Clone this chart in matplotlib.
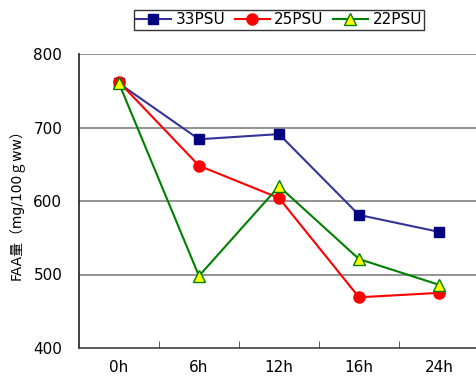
import matplotlib
matplotlib.use("Agg")
import matplotlib.pyplot as plt
import numpy as np

plt.rcParams['font.family'] = ['DejaVu Sans', 'Noto Sans CJK JP']

categories = ["0h", "6h", "12h", "16h", "24h"]
psu33 = [760, 684, 691, 581, 558]
psu25 = [762, 648, 604, 469, 475]
psu22 = [760, 498, 620, 521, 486]

fig = plt.figure(figsize=(4.77, 3.83), dpi=100)
ax = fig.add_axes([79/477, 35/383, 400/477, 294/383])
x = np.arange(len(categories))

ax.plot(x, psu33, color='#333399', marker='s', markersize=7, markerfacecolor='#000080',
        markeredgecolor='#000080', lw=1.5, label='33PSU', zorder=3)
ax.plot(x, psu25, color='#FF0000', marker='o', markersize=8, markerfacecolor='#FF0000',
        markeredgecolor='#FF0000', lw=1.5, label='25PSU', zorder=3)
ax.plot(x, psu22, color='#008000', marker='^', markersize=8.5, markerfacecolor='#FFFF00',
        markeredgecolor='#008000', lw=1.5, label='22PSU', zorder=4)

ax.set_xlim(-0.5, 4.5)
ax.set_ylim(400, 800)
ax.set_yticks([400, 500, 600, 700, 800])
for v in [500, 600, 700, 800]:
    ax.axhline(v, color='#808080', lw=1.2, zorder=1)

ax.set_xticks(x)
ax.set_xticklabels(categories, fontsize=11)
ax.set_xticks(np.arange(0.5, 4.5, 1), minor=True)
ax.tick_params(axis='x', which='major', length=0, pad=9)
ax.tick_params(axis='x', which='minor', direction='in', length=5, color='#404040')
ax.tick_params(axis='y', length=0, labelsize=11, pad=12)

for s in ['top', 'right']:
    ax.spines[s].set_visible(False)
ax.spines['left'].set_color('#202020')
ax.spines['bottom'].set_color('#404040')
ax.spines['left'].set_linewidth(1.2)
ax.spines['bottom'].set_linewidth(1.2)

ax.set_ylabel("FAA量（mg/100ｇww）", fontsize=10, labelpad=6)

leg = fig.legend(loc='center', bbox_to_anchor=(279/477, 1 - 20/383), ncol=3,
                 frameon=True, fancybox=False, edgecolor='black', fontsize=11,
                 handlelength=2.3, columnspacing=0.6, handletextpad=0.3,
                 borderpad=0.15)
leg.get_frame().set_linewidth(1.0)

fig.savefig("out.png", dpi=100)
